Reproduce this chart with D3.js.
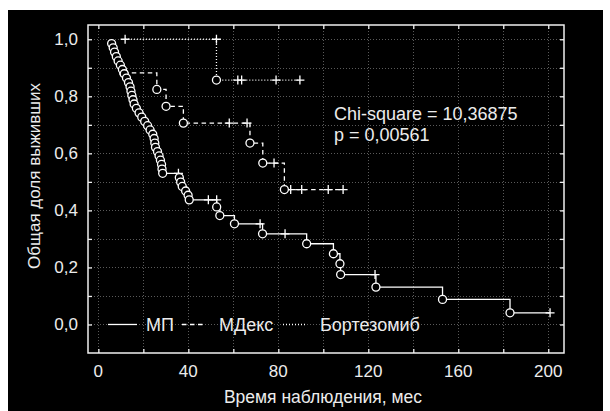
<!DOCTYPE html>
<html><head><meta charset="utf-8">
<script src="https://cdn.jsdelivr.net/npm/d3@7"></script>
<style>
body{margin:0;background:#fff;}
svg{display:block;}
text{font-family:"Liberation Sans",Arial,sans-serif;fill:#ececec;}
</style>
</head><body>
<svg id="c" width="610" height="411"></svg>
<script>
// ---- data ----
const xTickValues = [0,20,40,60,80,100,120,140,160,180,200];
const xLabelValues = [0,40,80,120,160,200];
const yTickValues = [0,0.1,0.2,0.3,0.4,0.5,0.6,0.7,0.8,0.9,1.0];
const yLabelValues = [0,0.2,0.4,0.6,0.8,1.0];

// МП (solid) : time, survival, type (e = event, c = censored)
const mpTime = [5.9,6.6,7.2,8.0,8.8,9.8,10.7,11.5,12.5,13.4,14.1,14.5,14.9,15.4,15.9,16.9,18.1,19.3,20.6,21.9,23.0,24.2,24.8,25.1,25.4,26.3,27.0,27.6,28.1,28.3,28.6,
  35.6,36.0,36.6,37.3,38.8,39.9,40.4,48.9,52.6,52.6,54.0,60.5,71.9,73.0,83.0,92.6,104.5,107.4,107.7,123.0,123.4,153.0,183.0,200.8];
const mpSurv = [0.985,0.970,0.955,0.939,0.924,0.909,0.894,0.879,0.864,0.848,0.833,0.818,0.803,0.788,0.773,0.758,0.742,0.727,0.712,0.697,0.682,0.667,0.652,0.636,0.621,0.606,0.591,0.576,0.561,0.545,0.530,
  0.530,0.515,0.499,0.484,0.468,0.453,0.437,0.437,0.437,0.412,0.382,0.353,0.353,0.318,0.318,0.283,0.248,0.213,0.175,0.175,0.131,0.088,0.041,0.041];
const mpType = ["e","e","e","e","e","e","e","e","e","e","e","e","e","e","e","e","e","e","e","e","e","e","e","e","e","e","e","e","e","e","e",
  "c","e","e","e","e","e","e","c","c","e","e","e","c","e","c","e","e","e","e","c","e","e","e","c"];

// МДекс (dashed)
const mdTime = [11.3,26.0,30.1,37.8,58.2,66.1,67.4,73.1,78.1,82.7,85.5,90.4,102.2,108.8];
const mdSurv = [0.882,0.824,0.765,0.706,0.706,0.706,0.636,0.566,0.566,0.473,0.473,0.473,0.473,0.473];
const mdType = ["e","e","e","e","c","c","e","e","c","e","c","c","c","c"];

// Бортезомиб (dotted)
const btTime = [11.9,52.5,52.5,62.0,63.7,79.0,89.6];
const btSurv = [1.0,1.0,0.857,0.857,0.857,0.857,0.857];
const btType = ["c","c","e","c","c","c","c"];

const seriesNames = ["МП","МДекс","Бортезомиб"];
const statLines = ["Chi-square = 10,36875","p = 0,00561"];

// ---- layout ----
const svg = d3.select("#c");
svg.append("rect").attr("x",8).attr("y",10).attr("width",595).attr("height",401).attr("fill","#000");

const x = d3.scaleLinear().domain([-4.6,207]).range([88,564]);
const y = d3.scaleLinear().domain([-0.1,1.05]).range([353,25]);
const fmt = v => d3.format(".1f")(v).replace(".",",");

// grid
const grid = svg.append("g").attr("stroke","#5a5a5a").attr("stroke-width",1).attr("stroke-dasharray","1,2");
grid.selectAll(".gx").data(xTickValues).join("line")
  .attr("x1",d=>Math.round(x(d))+0.5).attr("x2",d=>Math.round(x(d))+0.5).attr("y1",25).attr("y2",353);
grid.selectAll(".gy").data(yTickValues).join("line")
  .attr("y1",d=>Math.round(y(d))+0.5).attr("y2",d=>Math.round(y(d))+0.5).attr("x1",88).attr("x2",564);

// axes (ticks inward on all sides)
const axStyle = g => { g.select(".domain").remove(); g.selectAll(".tick line").attr("stroke","#f0f0f0").attr("stroke-width",1.3); g.selectAll("text").remove(); };
svg.append("g").attr("transform","translate(0,353)").call(d3.axisTop(x).tickValues(xTickValues).tickSize(4)).call(axStyle);
svg.append("g").attr("transform","translate(0,25)").call(d3.axisBottom(x).tickValues(xTickValues).tickSize(4)).call(axStyle);
svg.append("g").attr("transform","translate(88,0)").call(d3.axisRight(y).tickValues(yTickValues).tickSize(4)).call(axStyle);
svg.append("g").attr("transform","translate(564,0)").call(d3.axisLeft(y).tickValues(yTickValues).tickSize(4)).call(axStyle);

// frame
svg.append("rect").attr("x",88).attr("y",25).attr("width",476).attr("height",328)
  .attr("fill","none").attr("stroke","#f0f0f0").attr("stroke-width",1.5);

// tick labels
svg.selectAll(".xl").data(xLabelValues).join("text")
  .attr("x",d=>x(d)).attr("y",377).attr("text-anchor","middle").attr("font-size",17).text(d=>d);
svg.selectAll(".yl").data(yLabelValues).join("text")
  .attr("x",78).attr("y",d=>y(d)+6).attr("text-anchor","end").attr("font-size",17).text(d=>fmt(d));

// axis titles
svg.append("text").attr("x",323).attr("y",403).attr("text-anchor","middle").attr("font-size",17.5).text("Время наблюдения, мес");
svg.append("text").attr("transform","translate(40,176) rotate(-90)").attr("text-anchor","middle").attr("font-size",17).text("Общая доля выживших");

// series
function drawSeries(times, survs, types, dash){
  const pts = times.map((t,i)=>({t, s:survs[i], k:types[i]}));
  const line = d3.line().x(d=>x(d.t)).y(d=>y(d.s)).curve(d3.curveStepAfter);
  svg.append("path").datum(pts).attr("d",line).attr("fill","none")
    .attr("stroke","#fff").attr("stroke-width",1.3).attr("stroke-dasharray",dash);
  svg.append("g").selectAll("path").data(pts.filter(d=>d.k==="c")).join("path")
    .attr("d",d=>{const cx=x(d.t), cy=y(d.s); return `M${cx-4.5},${cy}H${cx+4.5}M${cx},${cy-4.5}V${cy+4.5}`;})
    .attr("stroke","#fff").attr("stroke-width",1.3).attr("fill","none");
  svg.append("g").selectAll("circle").data(pts.filter(d=>d.k==="e")).join("circle")
    .attr("cx",d=>x(d.t)).attr("cy",d=>y(d.s)).attr("r",4)
    .attr("fill","#000").attr("stroke","#fff").attr("stroke-width",1.3);
}
drawSeries(btTime, btSurv, btType, "1,2");
drawSeries(mdTime, mdSurv, mdType, "4.5,3.5");
drawSeries(mpTime, mpSurv, mpType, null);

// legend
const legY = y(0);
const leg = [
  {x1:108,x2:137,tx:146,dash:null},
  {x1:182,x2:205,tx:219,dash:"4.5,3.5"},
  {x1:283,x2:307,tx:320,dash:"1,2"}
];
leg.forEach((l,i)=>{
  svg.append("line").attr("x1",l.x1).attr("x2",l.x2).attr("y1",legY).attr("y2",legY)
    .attr("stroke","#fff").attr("stroke-width",1.3).attr("stroke-dasharray",l.dash);
  svg.append("text").attr("x",l.tx).attr("y",legY+6.5).attr("font-size",18).text(seriesNames[i]);
});

// statistics annotation
svg.selectAll(".st").data(statLines).join("text")
  .attr("x",334).attr("y",(d,i)=>120+i*20.5).attr("font-size",18).text(d=>d);
</script>
</body></html>
